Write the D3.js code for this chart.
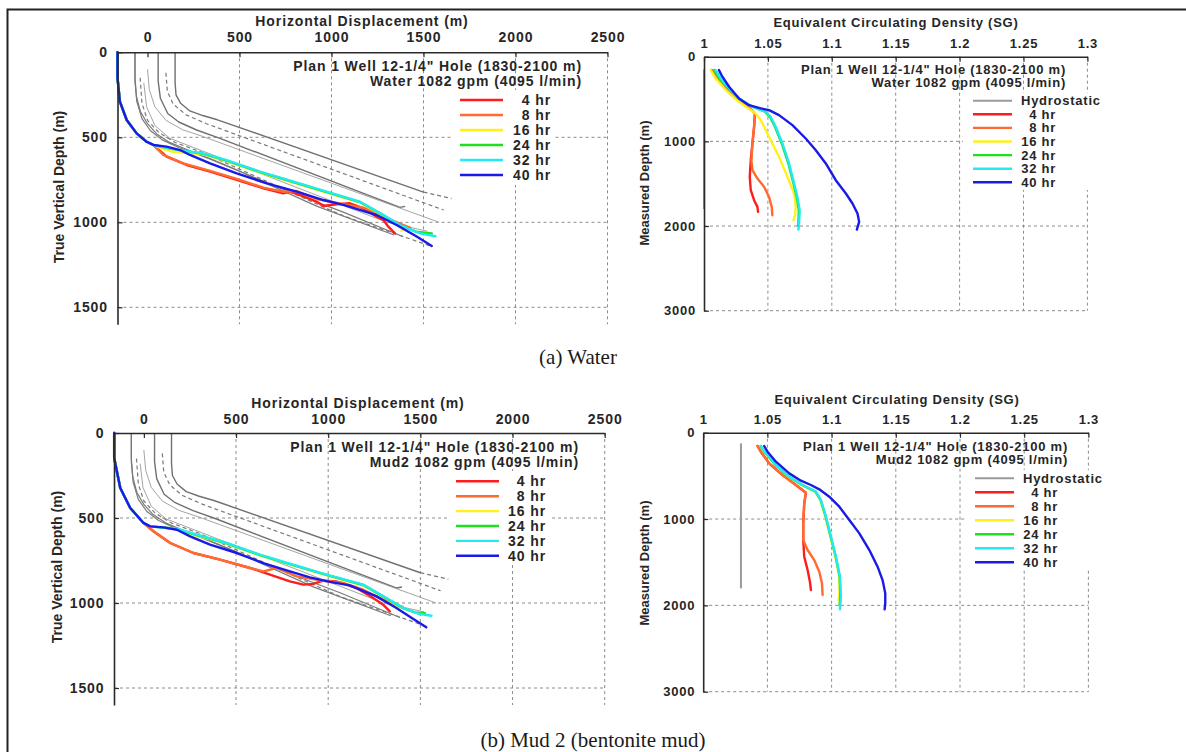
<!DOCTYPE html>
<html><head><meta charset="utf-8">
<script src="https://cdn.jsdelivr.net/npm/d3@7"></script>
<style>
body{margin:0;background:#fff;}
svg text.sans{font-family:"Liberation Sans",Arial,Helvetica,sans-serif;font-weight:bold;fill:#262626;}
svg text.serif{font-family:"Liberation Serif","Times New Roman",serif;fill:#1a1a1a;}
</style></head><body>
<svg id="c" width="1186" height="752"></svg>
<script>
// ---------------- DATA ----------------
const hdTicks = [0, 500, 1000, 1500, 2000, 2500];
const tvdTicks = [0, 500, 1000, 1500];
const ecdTicks = [1, 1.05, 1.1, 1.15, 1.2, 1.25, 1.3];
const ecdTickLabels = ["1", "1.05", "1.1", "1.15", "1.2", "1.25", "1.3"];
const mdTicks = [0, 1000, 2000, 3000];
const seriesNames = ["4 hr", "8 hr", "16 hr", "24 hr", "32 hr", "40 hr"];
const hydroName = "Hydrostatic";
const annLine1 = "Plan 1 Well 12-1/4\" Hole (1830-2100 m)";
const annWater = "Water 1082 gpm (4095 l/min)";
const annMud = "Mud2 1082 gpm (4095 l/min)";
const captionA = "(a) Water";
const captionB = "(b) Mud 2 (bentonite mud)";

// planned well trajectories (horizontal displacement m, TVD m)
const planSolid1 = [[150,0],[150,180],[155,250],[180,300],[230,345],[300,372],[380,397],[1500,822]];
const planDashed1 = [[1500,822],[1652,860]];
const planDashed2 = [[100,120],[108,230],[140,305],[210,368],[320,420],[1610,928]];
const planSolid2 = [[58,0],[58,170],[70,270],[110,360],[170,410],[267,457],[394,506],[1372,912],[1400,906]];
const planThin3 = [[0,100],[10,220],[40,320],[100,400],[190,455],[300,495],[1585,1000]];
const planLow1 = [[-68,0],[-68,150],[-60,260],[-38,350],[0,420],[50,480],[120,530],[220,575],[500,700],[919,905],[1340,1075]];
const planLow2 = [[-68,0],[-68,170],[-58,290],[-30,390],[15,460],[80,515],[170,560],[350,630],[700,790],[1064,940],[1390,1085]];
const planLowDashed = [[-40,150],[-30,300],[0,400],[60,470],[150,530],[300,590],[1064,962],[1540,1140]];
const planLowThin = [[-20,180],[-5,320],[40,430],[120,505],[250,560],[1300,1000],[1520,1052]];

// actual trajectories, water case
const waterTraj4 = [[-163,0],[-163,150],[-150,290],[-113,398],[-59,477],[-5,526],[32,545],[104,614],[213,663],[340,702],[485,751],[630,800],[738,830],[774,820],[829,839],[919,878],[955,904],[1028,894],[1100,888],[1173,918],[1245,967],[1282,986],[1309,1026],[1345,1065]];
const waterTraj8 = [[-163,0],[-163,150],[-150,290],[-113,398],[-59,477],[-5,526],[32,545],[86,604],[195,653],[340,698],[485,745],[630,796],[738,820],[811,816],[919,863],[1064,894],[1173,914],[1264,957],[1336,992],[1391,1016],[1427,1031]];
const waterTraj16 = [[-163,0],[-163,150],[-150,290],[-113,398],[-59,477],[-5,526],[32,545],[70,562],[140,585],[213,592],[303,600],[430,640],[611,707],[793,766],[974,825],[1155,884],[1282,962],[1340,1005],[1400,1035],[1380,1050]];
const waterTraj24 = [[-163,0],[-163,150],[-150,290],[-113,398],[-59,477],[-5,526],[32,545],[122,567],[213,583],[303,597],[430,637],[611,704],[793,763],[974,822],[1155,881],[1282,958],[1372,1018],[1460,1055],[1545,1066]];
const waterTraj32 = [[-163,0],[-163,150],[-150,290],[-113,398],[-59,477],[-5,526],[32,545],[122,565],[213,581],[303,594],[430,634],[611,702],[793,761],[974,820],[1155,879],[1282,957],[1372,1016],[1481,1065],[1565,1082]];
const waterTraj40 = [[-163,0],[-163,150],[-150,290],[-113,398],[-59,477],[-5,526],[32,545],[104,555],[177,575],[231,604],[340,653],[485,712],[648,771],[811,820],[956,869],[1064,898],[1245,957],[1354,1016],[1463,1084],[1545,1139]];

// actual trajectories, mud case
const mudTraj4 = [[-161,0],[-161,147],[-128,324],[-74,441],[-2,529],[52,578],[143,647],[269,706],[413,745],[576,794],[684,833],[792,873],[865,892],[919,888],[973,869],[1045,873],[1153,912],[1244,971],[1298,1010],[1334,1049]];
const mudTraj8 = [[-161,0],[-161,147],[-128,324],[-74,441],[-2,529],[52,578],[143,647],[269,706],[413,745],[576,794],[649,814],[720,794],[829,843],[973,869],[1081,882],[1190,922],[1298,980],[1370,1010],[1406,1024]];
const mudTraj16 = [[-161,0],[-161,147],[-128,324],[-74,441],[-2,529],[34,549],[150,560],[230,585],[300,610],[449,651],[630,720],[810,779],[991,837],[1190,896],[1316,975],[1380,1020],[1445,1045]];
const mudTraj24 = [[-161,0],[-161,147],[-128,324],[-74,441],[-2,529],[34,549],[179,565],[287,600],[449,649],[630,718],[810,777],[991,835],[1190,894],[1316,973],[1406,1030],[1470,1055],[1525,1060]];
const mudTraj32 = [[-161,0],[-161,147],[-128,324],[-74,441],[-2,529],[34,549],[179,563],[287,598],[449,647],[630,716],[810,775],[991,833],[1190,892],[1316,971],[1406,1029],[1496,1065],[1560,1075]];
const mudTraj40 = [[-161,0],[-161,147],[-128,324],[-74,441],[-2,529],[34,549],[106,555],[179,569],[251,608],[359,657],[504,706],[648,765],[792,814],[901,849],[1009,876],[1117,896],[1262,961],[1370,1029],[1460,1092],[1532,1143]];

// ECD profiles (SG, measured depth m), water case
const waterHydro = [[1.0,150],[1.0,1800]];
const waterEcd4 = [[1.0060,158],[1.0170,374],[1.0274,512],[1.0366,623],[1.0399,670],[1.0392,828],[1.0379,1025],[1.0366,1222],[1.0358,1419],[1.0366,1577],[1.0392,1695],[1.0418,1774],[1.0423,1833]];
const waterEcd8 = [[1.0060,158],[1.0170,374],[1.0274,512],[1.0366,623],[1.0399,670],[1.0392,828],[1.0379,1025],[1.0371,1222],[1.0379,1340],[1.0418,1439],[1.0470,1537],[1.0509,1656],[1.0530,1774],[1.0535,1872]];
const waterEcd16 = [[1.0052,158],[1.0091,256],[1.0170,394],[1.0274,532],[1.0366,631],[1.0405,670],[1.0444,749],[1.0509,946],[1.0587,1183],[1.0653,1419],[1.0705,1616],[1.0718,1774],[1.0713,1872],[1.0700,1932]];
const waterEcd24 = [[1.0080,158],[1.0120,256],[1.0190,374],[1.0270,493],[1.0375,591],[1.0478,650],[1.0515,710],[1.0555,828],[1.0608,1025],[1.0660,1261],[1.0700,1498],[1.0725,1656],[1.0742,1813],[1.0738,1971],[1.0735,2000]];
const waterEcd32 = [[1.0091,158],[1.0131,256],[1.0196,374],[1.0274,493],[1.0379,591],[1.0483,650],[1.0522,710],[1.0561,828],[1.0614,1025],[1.0666,1261],[1.0705,1498],[1.0731,1656],[1.0749,1813],[1.0744,1971],[1.0739,2042]];
const waterEcd40 = [[1.0117,158],[1.0144,236],[1.0196,355],[1.0274,493],[1.0352,572],[1.0444,611],[1.0509,631],[1.0587,690],[1.0692,808],[1.0796,966],[1.0875,1104],[1.0953,1261],[1.1031,1459],[1.1110,1616],[1.1162,1734],[1.1201,1853],[1.1214,1951],[1.1196,2042]];

// ECD profiles, mud case
const mudHydro = [[1.0294,124],[1.0294,1803]];
const mudEcd4 = [[1.0423,154],[1.0449,220],[1.0514,355],[1.0618,490],[1.0722,606],[1.0800,695],[1.0787,819],[1.0779,1050],[1.0779,1243],[1.0787,1436],[1.0813,1591],[1.0831,1726],[1.0839,1822]];
const mudEcd8 = [[1.0423,154],[1.0449,220],[1.0514,355],[1.0618,490],[1.0722,606],[1.0800,695],[1.0787,819],[1.0779,1050],[1.0779,1243],[1.0813,1359],[1.0865,1475],[1.0904,1610],[1.0925,1745],[1.0930,1880]];
const mudEcd16 = [[1.0445,154],[1.0485,239],[1.0562,375],[1.0665,510],[1.0768,606],[1.0872,683],[1.0912,780],[1.0951,973],[1.0990,1205],[1.1030,1436],[1.1060,1668],[1.1062,1850],[1.1055,1938]];
const mudEcd24 = [[1.0447,154],[1.0486,239],[1.0564,375],[1.0668,510],[1.0771,606],[1.0875,683],[1.0915,780],[1.0954,973],[1.0993,1205],[1.1032,1436],[1.1063,1668],[1.1068,1900],[1.1062,2000]];
const mudEcd32 = [[1.0449,154],[1.0488,239],[1.0566,375],[1.0670,510],[1.0774,606],[1.0878,683],[1.0917,780],[1.0956,973],[1.0995,1205],[1.1034,1436],[1.1065,1668],[1.1073,1900],[1.1065,2046]];
const mudEcd40 = [[1.0475,154],[1.0501,220],[1.0566,336],[1.0670,471],[1.0761,556],[1.0839,606],[1.0904,656],[1.0982,741],[1.1060,857],[1.1138,1012],[1.1216,1166],[1.1294,1359],[1.1358,1552],[1.1397,1707],[1.1418,1861],[1.1418,1977],[1.1413,2046]];

// ---------------- STYLE ----------------
const seriesColors = ["#ff1c1c", "#ff6a2e", "#fff01e", "#1fe01f", "#22eaf2", "#1a1ae8"];
const hydroColor = "#9a9a9a";

const svg = d3.select("#c");
svg.append("rect").attr("width", 1186).attr("height", 752).attr("fill", "#fff");
svg.append("path").attr("d", "M7.5,752 V9.5 H1186").attr("fill", "none")
  .attr("stroke", "#222").attr("stroke-width", 2);

function addText(g, txt, x, y, opt) {
  const t = g.append("text").attr("class", "sans").attr("x", x).attr("y", y)
    .attr("font-size", opt.size).attr("letter-spacing", opt.ls || 0)
    .attr("text-anchor", opt.anchor || "start").attr("dominant-baseline", "central")
    .text(txt);
  if (opt.rotate) t.attr("transform", `rotate(-90,${x},${y})`);
  return t;
}

function drawPanel(p) {
  const g = svg.append("g");
  const x = d3.scaleLinear().domain(p.xDomain).range([p.x0, p.x1]);
  const y = d3.scaleLinear().domain(p.yDomain).range([p.y0, p.y1]);
  const line = d3.line().x(d => x(d[0])).y(d => y(d[1])).curve(d3.curveLinear);

  // grid
  g.append("g").selectAll("line").data(p.xTicks.slice(1)).join("line")
    .attr("x1", d => x(d)).attr("x2", d => x(d)).attr("y1", p.y0).attr("y2", p.y1)
    .attr("stroke", "#8c8c8c").attr("stroke-width", 1).attr("stroke-dasharray", "3,3");
  g.append("g").selectAll("line").data(p.yTicks.slice(1)).join("line")
    .attr("x1", p.x0).attr("x2", p.x1).attr("y1", d => y(d)).attr("y2", d => y(d))
    .attr("stroke", "#8c8c8c").attr("stroke-width", 1).attr("stroke-dasharray", "3,3");

  // white key box
  g.append("rect").attr("x", p.box[0]).attr("y", p.box[1]).attr("width", p.box[2]).attr("height", p.box[3]).attr("fill", "#fff");

  // gray reference lines
  (p.gray || []).forEach(gr => {
    g.append("path").attr("d", line(gr.pts)).attr("fill", "none")
      .attr("stroke", gr.color).attr("stroke-width", gr.w)
      .attr("stroke-dasharray", gr.dash || null).attr("stroke-linejoin", "round");
  });
  if (p.hydro) {
    g.append("path").attr("d", line(p.hydro)).attr("fill", "none")
      .attr("stroke", hydroColor).attr("stroke-width", 2);
  }
  // series
  p.series.forEach((s, i) => {
    g.append("path").attr("d", line(s)).attr("fill", "none")
      .attr("stroke", seriesColors[i]).attr("stroke-width", 2.4)
      .attr("stroke-linejoin", "round").attr("stroke-linecap", "round");
  });

  // axes
  const ax = d3.axisTop(x).tickValues(p.xTicks).tickSizeInner(-5).tickSizeOuter(0)
    .tickPadding(p.xPad).tickFormat((d, i) => p.xLabels[i]);
  const gx = g.append("g").attr("transform", `translate(0,${p.y0})`).call(ax);
  const ay = d3.axisLeft(y).tickValues(p.yTicks).tickSizeInner(-5).tickSizeOuter(0)
    .tickPadding(p.yPad).tickFormat(d3.format("d"));
  const gy = g.append("g").attr("transform", `translate(${p.x0},0)`).call(ay);
  [gx, gy].forEach(a => {
    a.select(".domain").attr("stroke", "#2a2a2a").attr("stroke-width", 1.6);
    a.selectAll(".tick line").attr("stroke", "#2a2a2a").attr("stroke-width", 1.2);
    a.selectAll("text").attr("class", "sans").attr("font-size", p.fs)
      .attr("letter-spacing", p.ls).attr("fill", "#262626");
  });
  gx.attr("font-family", null).attr("font-size", null);
  gy.attr("font-family", null).attr("font-size", null);

  // titles
  addText(g, p.xTitle, p.xTitleX, p.xTitleY, {size: p.fs, ls: p.ls, anchor: "middle"});
  addText(g, p.yTitle, p.yTitleX, p.yTitleY, {size: p.fs, ls: 0, anchor: "middle", rotate: true});

  // annotation
  addText(g, annLine1, p.annX, p.annY, {size: p.fs, ls: p.ls, anchor: "end"});
  addText(g, p.ann2, p.annX, p.annY + p.annGap, {size: p.fs, ls: p.ls, anchor: "end"});

  // legend
  const entries = [];
  if (p.hydroKey) entries.push({name: hydroName, color: hydroColor, hyd: true});
  seriesNames.forEach((n, i) => entries.push({name: n, color: seriesColors[i]}));
  entries.forEach((e, i) => {
    const yy = p.keyY + i * p.keyGap;
    g.append("line").attr("x1", p.keyS0).attr("x2", p.keyS1).attr("y1", yy).attr("y2", yy)
      .attr("stroke", e.color).attr("stroke-width", e.hyd ? 2 : 2.4);
    if (e.hyd) addText(g, e.name, p.keyHydX, yy, {size: p.fs, ls: p.ls, anchor: "start"});
    else addText(g, e.name, p.keyLabelEnd, yy, {size: p.fs, ls: p.ls, anchor: "end"});
  });
}

const grayStyles = [
  {pts: planSolid1, color: "#707070", w: 1.4},
  {pts: planDashed1, color: "#7a7a7a", w: 1.3, dash: "4,3"},
  {pts: planDashed2, color: "#7a7a7a", w: 1.2, dash: "4,3"},
  {pts: planSolid2, color: "#707070", w: 1.4},
  {pts: planThin3, color: "#9a9a9a", w: 0.9},
  {pts: planLow1, color: "#7a7a7a", w: 1.2},
  {pts: planLow2, color: "#7a7a7a", w: 1.2},
  {pts: planLowDashed, color: "#7a7a7a", w: 1.2, dash: "4,3"},
  {pts: planLowThin, color: "#9a9a9a", w: 0.9}
];

// top-left
drawPanel({
  x0: 117.5, x1: 607.5, y0: 52.3, y1: 324.3, xDomain: [-163, 2500], yDomain: [0, 1600],
  xTicks: hdTicks, xLabels: hdTicks.map(String), yTicks: tvdTicks, xPad: 10, yPad: 9.5,
  fs: 14, ls: 0.9,
  xTitle: "Horizontal Displacement (m)", xTitleX: 362, xTitleY: 20.7,
  yTitle: "True Vertical Depth (m)", yTitleX: 59, yTitleY: 187,
  annX: 582, annY: 66, annGap: 14.5, ann2: annWater,
  box: [453, 90, 102, 95],
  keyY: 100, keyGap: 15, keyS0: 460, keyS1: 503, keyLabelEnd: 551,
  gray: grayStyles,
  series: [waterTraj4, waterTraj8, waterTraj16, waterTraj24, waterTraj32, waterTraj40]
});
// bottom-left
drawPanel({
  x0: 114, x1: 604.7, y0: 433, y1: 705, xDomain: [-162, 2500], yDomain: [0, 1600],
  xTicks: hdTicks, xLabels: hdTicks.map(String), yTicks: tvdTicks, xPad: 9, yPad: 9.5,
  fs: 14, ls: 0.9,
  xTitle: "Horizontal Displacement (m)", xTitleX: 358, xTitleY: 402.7,
  yTitle: "True Vertical Depth (m)", yTitleX: 57, yTitleY: 567,
  annX: 579, annY: 447, annGap: 14.5, ann2: annMud,
  box: [450, 471, 102, 94],
  keyY: 481.3, keyGap: 14.9, keyS0: 456, keyS1: 499, keyLabelEnd: 546,
  gray: grayStyles,
  series: [mudTraj4, mudTraj8, mudTraj16, mudTraj24, mudTraj32, mudTraj40]
});
// top-right
drawPanel({
  x0: 704, x1: 1087.4, y0: 56.7, y1: 310.7, xDomain: [1, 1.3], yDomain: [0, 3000],
  xTicks: ecdTicks, xLabels: ecdTickLabels, yTicks: mdTicks, xPad: 9, yPad: 8,
  fs: 13, ls: 0.75,
  xTitle: "Equivalent Circulating Density (SG)", xTitleX: 896, xTitleY: 22.7,
  yTitle: "Measured Depth (m)", yTitleX: 644, yTitleY: 183,
  annX: 1066, annY: 69.5, annGap: 13.3, ann2: annWater,
  box: [963, 93, 142, 97],
  hydroKey: true, keyY: 100.7, keyGap: 13.6, keyS0: 973, keyS1: 1012, keyHydX: 1021, keyLabelEnd: 1056,
  hydro: waterHydro,
  series: [waterEcd4, waterEcd8, waterEcd16, waterEcd24, waterEcd32, waterEcd40]
});
// bottom-right
drawPanel({
  x0: 703.2, x1: 1088.4, y0: 432.7, y1: 691.7, xDomain: [1, 1.3], yDomain: [0, 3000],
  xTicks: ecdTicks, xLabels: ecdTickLabels, yTicks: mdTicks, xPad: 9, yPad: 8,
  fs: 13, ls: 0.75,
  xTitle: "Equivalent Circulating Density (SG)", xTitleX: 897, xTitleY: 399.3,
  yTitle: "Measured Depth (m)", yTitleX: 644, yTitleY: 563,
  annX: 1068, annY: 446, annGap: 13.5, ann2: annMud,
  box: [965, 470, 142, 99],
  hydroKey: true, keyY: 478.3, keyGap: 14, keyS0: 975, keyS1: 1014, keyHydX: 1023, keyLabelEnd: 1058,
  hydro: mudHydro,
  series: [mudEcd4, mudEcd8, mudEcd16, mudEcd24, mudEcd32, mudEcd40]
});

// captions
svg.append("text").attr("class", "serif").attr("x", 578).attr("y", 364)
  .attr("font-size", 21).attr("text-anchor", "middle").text(captionA);
svg.append("text").attr("class", "serif").attr("x", 593).attr("y", 747)
  .attr("font-size", 21).attr("text-anchor", "middle").text(captionB);
</script>
</body></html>
